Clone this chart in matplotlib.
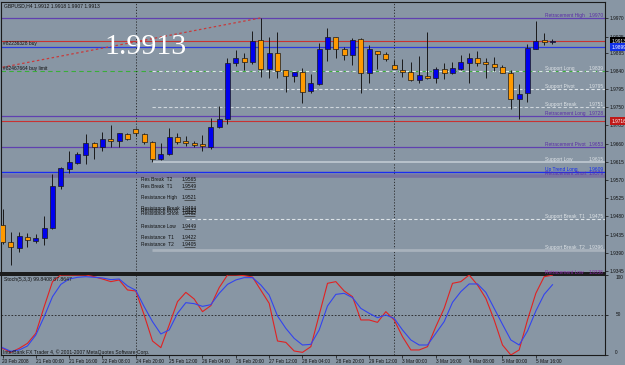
import matplotlib
matplotlib.use('Agg')
import matplotlib.pyplot as plt
from matplotlib.transforms import blended_transform_factory
import numpy as np

# ---------------- data ----------------
title_text = "GBPUSD,H4 1.9912 1.9918 1.9907 1.9913"
big_price = "1.9913"

opens = [1.9459, 1.9417, 1.9402, 1.9429, 1.9419, 1.9427, 1.9452, 1.9555, 1.9597, 1.9612,
         1.9632, 1.9662, 1.9652, 1.9672, 1.9667, 1.9684, 1.9696, 1.9684, 1.9664, 1.9622,
         1.9635, 1.9677, 1.9667, 1.9662, 1.9659, 1.9652, 1.9701, 1.9721, 1.9860, 1.9872,
         1.9862, 1.9916, 1.9845, 1.9884, 1.9842, 1.9827, 1.9837, 1.9790, 1.9808, 1.9894,
         1.9924, 1.9894, 1.9879, 1.9919, 1.9835, 1.9889, 1.9882, 1.9855, 1.9842, 1.9837,
         1.9817, 1.9827, 1.9822, 1.9845, 1.9835, 1.9845, 1.9860, 1.9872, 1.9862, 1.9857,
         1.9850, 1.9835, 1.9771, 1.9785, 1.9894, 1.9916, 1.9912]
highs = [1.9499, 1.9442, 1.9442, 1.9439, 1.9437, 1.9481, 1.9585, 1.9602, 1.9642, 1.9640,
         1.9684, 1.9664, 1.9689, 1.9706, 1.9686, 1.9686, 1.9699, 1.9686, 1.9667, 1.9662,
         1.9699, 1.9686, 1.9679, 1.9667, 1.9681, 1.9724, 1.9753, 1.9872, 1.9892, 1.9884,
         1.9939, 1.9971, 1.9924, 1.9936, 1.9842, 1.9837, 1.9847, 1.9832, 1.9909, 1.9946,
         1.9924, 1.9899, 1.9921, 1.9921, 1.9904, 1.9889, 1.9887, 1.9867, 1.9869, 1.9862,
         1.9877, 1.9936, 1.9850, 1.9860, 1.9862, 1.9879, 1.9884, 1.9889, 1.9872, 1.9874,
         1.9855, 1.9842, 1.9808, 1.9906, 1.9963, 1.9934, 1.9918]
lows = [1.9412, 1.9360, 1.9392, 1.9405, 1.9415, 1.9410, 1.9449, 1.9548, 1.9588, 1.9610,
        1.9610, 1.9622, 1.9642, 1.9652, 1.9652, 1.9669, 1.9679, 1.9659, 1.9615, 1.9620,
        1.9632, 1.9659, 1.9654, 1.9652, 1.9642, 1.9647, 1.9699, 1.9709, 1.9852, 1.9842,
        1.9857, 1.9825, 1.9822, 1.9822, 1.9788, 1.9813, 1.9761, 1.9785, 1.9805, 1.9864,
        1.9872, 1.9867, 1.9855, 1.9785, 1.9810, 1.9845, 1.9864, 1.9844, 1.9825, 1.9815,
        1.9810, 1.9820, 1.9810, 1.9820, 1.9832, 1.9842, 1.9810, 1.9852, 1.9822, 1.9840,
        1.9835, 1.9746, 1.9721, 1.9763, 1.9894, 1.9904, 1.9907]
closes = [1.9417, 1.9405, 1.9432, 1.9422, 1.9427, 1.9452, 1.9555, 1.9600, 1.9615, 1.9635,
          1.9662, 1.9652, 1.9672, 1.9667, 1.9686, 1.9672, 1.9686, 1.9664, 1.9622, 1.9635,
          1.9677, 1.9664, 1.9662, 1.9657, 1.9654, 1.9701, 1.9721, 1.9860, 1.9872, 1.9862,
          1.9914, 1.9845, 1.9884, 1.9840, 1.9827, 1.9837, 1.9788, 1.9810, 1.9894, 1.9924,
          1.9894, 1.9879, 1.9916, 1.9835, 1.9894, 1.9882, 1.9869, 1.9844, 1.9837, 1.9817,
          1.9830, 1.9822, 1.9845, 1.9835, 1.9847, 1.9862, 1.9872, 1.9860, 1.9857, 1.9850,
          1.9835, 1.9771, 1.9783, 1.9897, 1.9914, 1.9912, 1.9913]

stoch_k = [8.3, 3.3, 8.3, 14.6, 27.1, 60.4, 91.7, 100, 100, 100,
           100, 97.9, 95.0, 91.7, 93.8, 81.3, 80.0, 50.0, 17.5, 9.2,
           37.5, 66.7, 78.3, 70.0, 54.2, 61.7, 84.2, 100, 100, 99.2,
           97.5, 81.0, 64.6, 17.5, 15.8, 5.0, 3.3, 10.4, 50.0, 89.6,
           91.7, 80.0, 72.9, 43.8, 43.8, 40.8, 54.2, 43.8, 22.9, 6.3,
           6.3, 10.4, 35.4, 58.3, 89.6, 91.7, 100, 87.5, 70.8, 43.8,
           12.5, 0.0, 6.3, 43.8, 77.1, 97.9, 99.84]
stoch_d = [9.2, 4.6, 6.3, 11.3, 25.0, 47.9, 72.9, 88.3, 95.0, 97.1,
           97.9, 97.1, 96.3, 94.2, 95.0, 86.3, 80.8, 60.4, 41.7, 26.3,
           31.3, 52.1, 65.4, 64.2, 60.8, 62.9, 77.1, 88.3, 93.8, 96.7,
           96.7, 87.5, 75.0, 48.8, 33.3, 20.8, 12.5, 13.3, 31.3, 61.3,
           75.8, 77.1, 71.7, 58.3, 52.1, 46.7, 50.0, 45.8, 31.3, 18.8,
           12.5, 12.5, 27.1, 41.7, 65.8, 79.2, 88.8, 88.8, 78.3, 58.3,
           38.3, 18.8, 12.5, 30.0, 55.0, 75.8, 87.86]
stoch_label = "Stoch(5,3,3) 99.8408 87.8647"

time_labels = ["20 Feb 2008", "21 Feb 00:00", "21 Feb 16:00", "22 Feb 08:00",
               "24 Feb 20:00", "25 Feb 12:00", "26 Feb 04:00", "26 Feb 20:00",
               "27 Feb 12:00", "28 Feb 04:00", "28 Feb 20:00", "29 Feb 12:00",
               "3 Mar 00:00", "3 Mar 16:00", "4 Mar 08:00", "5 Mar 00:00", "5 Mar 16:00"]
price_ticks = [1.9970, 1.9925, 1.9885, 1.9840, 1.9795, 1.9750, 1.9705, 1.9660,
               1.9615, 1.9570, 1.9525, 1.9480, 1.9435, 1.9390, 1.9345]
week_separators = [16, 47]

level_names = ["Retracement High", "Support Long", "Support Pivot", "Support Break",
               "Retracement Long", "Retracement Pivot", "Support Low", "Up Trend Long",
               "Retracement Short", "Support Break  T1", "Support Break  T2", "Retracement Low"]
level_values = [1.9970, 1.9839, 1.9795, 1.9751, 1.9728, 1.9653, 1.9615, 1.9609,
                1.9579, 1.9475, 1.9396, 1.9336]
uptrend_line_value = 1.9590
level_start_bar = [None, 18, 18, 18, None, None, 18, None, None, 22, 18, None]

res_names = ["Res Break  T2", "Res Break  T1", "Resistance High", "Resistance Break",
             "Resistance Pivot", "Resistance Short", "Resistance Low", "Resistance  T1",
             "Resistance  T2"]
res_values = [1.9565, 1.9549, 1.9521, 1.9494, 1.9488, 1.9482, 1.9449, 1.9422, 1.9405]

order_buy_label = "#82236328 buy"
order_buy_price = 1.9913
order_limit_label = "#82467664 buy limit"
order_limit_price = 1.9839
blue_line_price = 1.9899
red_line_price = 1.9716
trend_start = (0, 1.9849)
trend_end = (31, 1.9971)
copyright_text = "InterBank FX Trader 4, \u00a9 2001-2007 MetaQuotes Software Corp."

# ---------------- style ----------------
BG = '#8896a4'
PURPLE = '#6040b0'
LABEL_PURPLE = '#5a2ea6'
WHITE_LINE = '#dde3e8'
SMALL = 3.5
FONT = ['Liberation Sans', 'DejaVu Sans']
plt.rcParams['font.family'] = FONT

W, H = 625, 365
fig = plt.figure(figsize=(W / 100, H / 100), dpi=100, facecolor=BG)
ax = fig.add_axes([1 / W, (H - 273) / H, 604 / W, 271 / H], facecolor=BG)
ax2 = fig.add_axes([1 / W, (H - 355) / H, 604 / W, 80 / H], facecolor=BG)

n = len(opens)
x = np.arange(n)
o = np.array(opens); c = np.array(closes); hi = np.array(highs); lo = np.array(lows)

xl = (-0.18, 72.3)
ax.set_xlim(*xl)
ax2.set_xlim(*xl)
ax.set_ylim(1.93403, 2.00103)
ax2.set_ylim(0, 100)

trans = blended_transform_factory(ax.transAxes, ax.transData)

# level lines
line_styles = {
    "Retracement High": dict(color=PURPLE, lw=0.9, ls='-'),
    "Support Long": dict(color=WHITE_LINE, lw=0.8, ls=(0, (3, 3))),
    "Support Pivot": dict(color=WHITE_LINE, lw=0.8, ls=(0, (3, 2))),
    "Support Break": dict(color='#cfd6dc', lw=0.8, ls=(0, (3, 2))),
    "Retracement Long": dict(color=PURPLE, lw=0.9, ls='-'),
    "Retracement Pivot": dict(color=PURPLE, lw=0.9, ls='-'),
    "Support Low": dict(color='#b9c3cc', lw=1.4, ls='-'),
    "Up Trend Long": dict(color='#1a2cf0', lw=1.0, ls='-'),
    "Retracement Short": dict(color='#77729f', lw=2.6, ls='-'),
    "Support Break  T1": dict(color=WHITE_LINE, lw=0.8, ls=(0, (3, 2))),
    "Support Break  T2": dict(color='#a8b2bc', lw=2.0, ls='-'),
    "Retracement Low": dict(color=PURPLE, lw=0.9, ls='-'),
}
label_colors = {
    "Up Trend Long": '#1028f0',
    "Retracement Low": '#8a2aa8',
}

# order / price lines
ax.axhline(order_limit_price, color='#3aae3a', lw=0.8, ls=(0, (4, 3)), zorder=1)
ax.axhline(order_buy_price, color='#c83232', lw=0.8, zorder=1)
ax.axhline(blue_line_price, color='#2a3ae0', lw=0.9, zorder=1)
ax.axhline(red_line_price, color='#c83232', lw=0.8, zorder=1)

for name, val, start in zip(level_names, level_values, level_start_bar):
    st = line_styles[name]
    yv = uptrend_line_value if name == "Up Trend Long" else val
    x0 = xl[0] if start is None else start
    ax.hlines(yv, x0, xl[1], colors=st['color'], lw=st['lw'], linestyles=st['ls'], zorder=1.5)
    if name.startswith("Support"):
        col = '#dde2e6'
    else:
        col = label_colors.get(name, LABEL_PURPLE)
    ty = yv if name == "Up Trend Long" else val
    ax.text(0.9007, ty, name, transform=trans, ha='left', va='bottom', fontsize=SMALL,
            color=col, clip_on=False, zorder=6)
    ax.text(0.9983, ty, f"{val:.4f}", transform=trans, ha='right', va='bottom', fontsize=SMALL,
            color=col, clip_on=False, zorder=6)

# resistance text block
for name, val in zip(res_names, res_values):
    ax.text(0.2318, val, name, transform=trans, ha='left', va='bottom', fontsize=SMALL,
            color='#111111', zorder=6)
    ax.text(0.2988, val, f"{val:.4f}", transform=trans, ha='left', va='bottom', fontsize=SMALL,
            color='#111111', zorder=6)
ax.hlines(res_values, 0.303, 0.321, transform=trans, colors='#333333', lw=0.5, zorder=2)

# trend line
ax.plot([trend_start[0], trend_end[0]], [trend_start[1], trend_end[1]], color='#c83a3a',
        lw=0.9, ls=(0, (2, 2)), zorder=2)

# week separators
for s in week_separators:
    ax.axvline(s, color='#222222', lw=0.6, ls=(0, (1.5, 2)), zorder=1)
    ax2.axvline(s, color='#222222', lw=0.6, ls=(0, (1.5, 2)), zorder=1)

# candles
colors = np.where(c >= o, '#0000ee', '#ff9900')
ax.vlines(x, lo, hi, color='#1a1a1a', lw=0.7, zorder=3)
ax.bar(x, np.maximum(np.abs(c - o), 0.00004), bottom=np.minimum(o, c), width=0.6,
       color=colors, edgecolor='#1a1a1a', lw=0.5, zorder=4)

# order labels
ax.text(0.004, order_buy_price, order_buy_label, transform=trans, ha='left', va='top',
        fontsize=SMALL, color='#111111', zorder=6)
ax.text(0.004, order_limit_price, order_limit_label, transform=trans, ha='left', va='bottom',
        fontsize=SMALL, color='#111111', zorder=6)

# right price axis
ax.yaxis.tick_right()
ax.set_yticks(price_ticks)
ax.set_yticklabels([f"{p:.4f}" for p in price_ticks])
ax.tick_params(axis='y', length=2, width=0.5, pad=1.5, labelsize=3.4, colors='#111111')
ax.set_xticks([])

for val, fc in [(order_buy_price, 'black'), (blue_line_price, '#1030e8'), (red_line_price, '#c01818')]:
    ax.text(1.0116, val, f"{val:.4f}", transform=trans, ha='left', va='center', fontsize=3.4,
            color='white', clip_on=False, zorder=7,
            bbox=dict(boxstyle='square,pad=0.35', fc=fc, ec='none'))

# big price label and title
fig.text(145 / W, 1 - 47.5 / H, big_price, ha='center', va='center', fontsize=21.5,
         family=['Liberation Serif', 'DejaVu Serif'], color='white')
fig.text(4 / W, 1 - 5.5 / H, title_text, ha='left', va='center', fontsize=3.6, color='#111111')

# stochastic
ax2.axhline(50, color='#222222', lw=0.6, ls=(0, (2, 2)))
ax2.plot(x, stoch_k, color='#e02222', lw=0.8, zorder=3)
ax2.plot(x, stoch_d, color='#3344ee', lw=0.8, zorder=3)
ax2.text(0.005, 0.9375, stoch_label, transform=ax2.transAxes, ha='left', va='center',
         fontsize=3.7, color='#111111')
trans2 = blended_transform_factory(ax2.transAxes, ax2.transData)
ax2.yaxis.tick_right()
ax2.set_yticks([0, 50, 100])
ax2.set_yticklabels([])
ax2.tick_params(axis='y', length=2, width=0.5)
for v, va in [(100, 'top'), (50, 'center'), (0, 'bottom')]:
    ax2.text(1.017, v, str(v), transform=trans2, ha='left', va=va, fontsize=3.4,
             color='#111111', clip_on=False)

ax2.set_xticks(np.arange(0, n, 4)[:len(time_labels)])
ax2.set_xticklabels(time_labels)
ax2.tick_params(axis='x', length=2, width=0.5, pad=1.0, labelsize=3.4, colors='#111111')
for lab in ax2.get_xticklabels():
    lab.set_ha('left')

fig.text(3 / W, 1 - 352 / H, copyright_text, ha='left', va='center', fontsize=3.6, color='#111111')

for a in (ax, ax2):
    for sp in a.spines.values():
        sp.set_color('#1a1a1a')
        sp.set_linewidth(0.8)
ax2.spines['top'].set_linewidth(1.4)
ax.spines['bottom'].set_linewidth(1.4)

fig.savefig('out.png', dpi=100, facecolor=BG)
